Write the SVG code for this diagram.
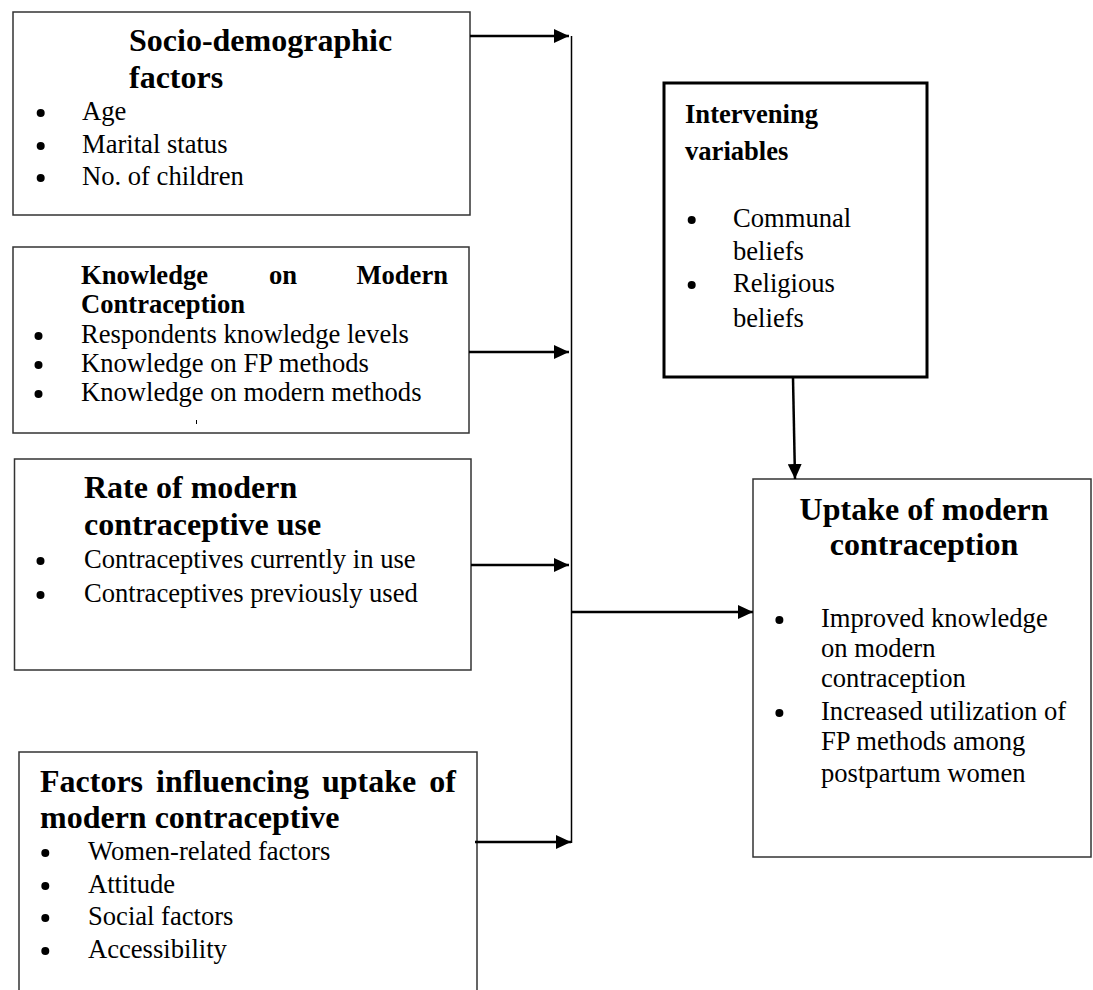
<svg xmlns="http://www.w3.org/2000/svg" width="1093" height="990" viewBox="0 0 1093 990">
<style>
.box{fill:#fff;stroke:#333;stroke-width:1.5}
.boxk{fill:#fff;stroke:#000;stroke-width:3}
.t{font-family:"Liberation Serif","Times New Roman",serif;font-size:26.6px;fill:#000}
.h{font-family:"Liberation Serif","Times New Roman",serif;font-size:32px;font-weight:bold;fill:#000}
.hs{font-family:"Liberation Serif","Times New Roman",serif;font-size:26.6px;font-weight:bold;fill:#000}
.c{stroke:#000;stroke-width:2.5;fill:none}
.v{stroke:#000;stroke-width:1.5;fill:none}
.b{fill:#000}
</style>
<defs>
<marker id="ah" markerUnits="userSpaceOnUse" markerWidth="16" markerHeight="14" refX="15" refY="7" orient="auto">
<path d="M0,0 L15,7 L0,14 z" fill="#000"/>
</marker>
</defs>
<rect width="1093" height="990" fill="#fff"/>
<g id="socio">
<rect class="box" x="13" y="12" width="457" height="203"/>
<text class="h" x="129" y="51">Socio-demographic</text>
<text class="h" x="129" y="88">factors</text>
<circle class="b" cx="40.7" cy="113" r="4"/><text class="t" x="82" y="120">Age</text>
<circle class="b" cx="40.7" cy="146" r="4"/><text class="t" x="82" y="153">Marital status</text>
<circle class="b" cx="40.7" cy="178" r="4"/><text class="t" x="82" y="185">No. of children</text>
</g>
<g id="knowledge">
<rect class="box" x="13" y="247" width="456" height="186"/>
<text class="hs" x="81" y="284">Knowledge</text>
<text class="hs" x="269" y="284">on</text>
<text class="hs" x="448" y="284" text-anchor="end">Modern</text>
<text class="hs" x="81" y="313">Contraception</text>
<circle class="b" cx="38.5" cy="336" r="4"/><text class="t" x="81" y="343">Respondents knowledge levels</text>
<circle class="b" cx="38.5" cy="365" r="4"/><text class="t" x="81" y="372">Knowledge on FP methods</text>
<circle class="b" cx="38.5" cy="394" r="4"/><text class="t" x="81" y="401">Knowledge on modern methods</text>
<line x1="196.5" y1="420" x2="196.5" y2="424" stroke="#000" stroke-width="1"/>
</g>
<g id="rate">
<rect class="box" x="14.5" y="459" width="456.5" height="211"/>
<text class="h" x="84" y="498">Rate of modern</text>
<text class="h" x="84" y="535">contraceptive use</text>
<circle class="b" cx="40.5" cy="561" r="4"/><text class="t" x="84" y="568">Contraceptives currently in use</text>
<circle class="b" cx="40.5" cy="595" r="4"/><text class="t" x="84" y="602">Contraceptives previously used</text>
</g>
<g id="factors">
<path class="box" d="M19,1000 V752 H477 V1000"/>
<text class="h" x="40" y="792">Factors</text>
<text class="h" x="156" y="792">influencing</text>
<text class="h" x="322" y="792">uptake</text>
<text class="h" x="456" y="792" text-anchor="end">of</text>
<text class="h" x="40" y="828">modern contraceptive</text>
<circle class="b" cx="45.3" cy="853" r="4"/><text class="t" x="88" y="860">Women-related factors</text>
<circle class="b" cx="45.3" cy="886" r="4"/><text class="t" x="88" y="893">Attitude</text>
<circle class="b" cx="45.3" cy="918" r="4"/><text class="t" x="88" y="925">Social factors</text>
<circle class="b" cx="45.3" cy="951" r="4"/><text class="t" x="88" y="958">Accessibility</text>
</g>
<g id="intervening">
<rect class="boxk" x="664" y="83" width="263" height="294"/>
<text class="hs" x="685" y="123">Intervening</text>
<text class="hs" x="685" y="160">variables</text>
<circle class="b" cx="691.7" cy="220" r="4"/><text class="t" x="733" y="227">Communal</text>
<text class="t" x="733" y="260">beliefs</text>
<circle class="b" cx="691.7" cy="285" r="4"/><text class="t" x="733" y="292">Religious</text>
<text class="t" x="733" y="327">beliefs</text>
</g>
<g id="uptake">
<rect class="box" x="753" y="479" width="338" height="378"/>
<text class="h" x="924" y="520" text-anchor="middle">Uptake of modern</text>
<text class="h" x="924" y="555" text-anchor="middle">contraception</text>
<circle class="b" cx="779.4" cy="620" r="4"/><text class="t" x="821" y="627">Improved knowledge</text>
<text class="t" x="821" y="657">on modern</text>
<text class="t" x="821" y="687">contraception</text>
<circle class="b" cx="779.4" cy="713" r="4"/><text class="t" x="821" y="720">Increased utilization of</text>
<text class="t" x="821" y="750">FP methods among</text>
<text class="t" x="821" y="782">postpartum women</text>
</g>
<g id="connectors">
<line class="v" x1="571.5" y1="36" x2="571.5" y2="843"/>
<line class="c" x1="470" y1="36" x2="569" y2="36" marker-end="url(#ah)"/>
<line class="c" x1="469" y1="352" x2="569" y2="352" marker-end="url(#ah)"/>
<line class="c" x1="471" y1="565" x2="569" y2="565" marker-end="url(#ah)"/>
<line class="c" x1="475" y1="842" x2="571" y2="842" marker-end="url(#ah)"/>
<line class="c" x1="571.5" y1="612" x2="753" y2="612" marker-end="url(#ah)"/>
<line class="c" x1="793" y1="378" x2="795" y2="479" marker-end="url(#ah)"/>
</g>
</svg>
